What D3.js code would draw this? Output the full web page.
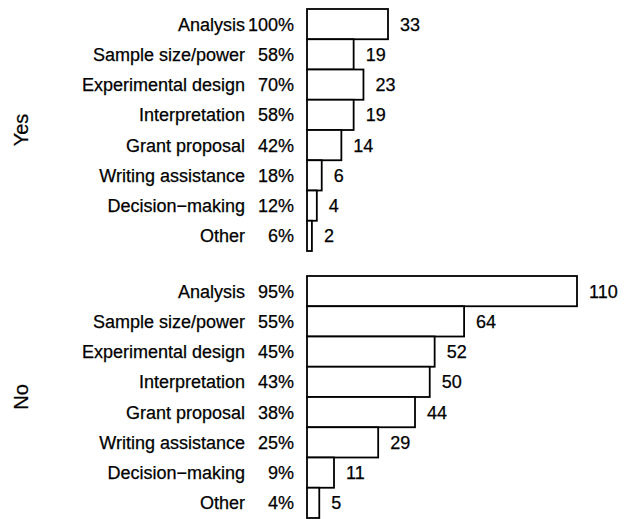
<!DOCTYPE html>
<html>
<head>
<meta charset="utf-8">
<script src="https://cdn.jsdelivr.net/npm/d3@7"></script>
<style>
  body { margin: 0; background: #fff; }
  svg text { font-family: "Liberation Sans", Arial, sans-serif; fill: #000; stroke: #000; stroke-width: 0.25px; }
</style>
</head>
<body>
<svg id="chart" width="629" height="519"></svg>
<script>
const categories = ['Analysis', 'Sample size/power', 'Experimental design', 'Interpretation',
  'Grant proposal', 'Writing assistance', 'Decision\u2212making', 'Other'];
const yesCounts = [33, 19, 23, 19, 14, 6, 4, 2];
const yesPercents = ['100%', '58%', '70%', '58%', '42%', '18%', '12%', '6%'];
const noCounts = [110, 64, 52, 50, 44, 29, 11, 5];
const noPercents = ['95%', '55%', '45%', '43%', '38%', '25%', '9%', '4%'];
const groups = ['Yes', 'No'];

const svg = d3.select('svg#chart');

const x = d3.scaleLinear()
  .domain([0, 110])
  .range([307, 577]);

const panels = [
  {name: groups[0], counts: yesCounts, percents: yesPercents, top: 9, bottom: 251},
  {name: groups[1], counts: noCounts, percents: noPercents, top: 276, bottom: 518}
];

panels.forEach((p) => {
  const y = d3.scaleBand()
    .domain(categories)
    .range([p.top, p.bottom])
    .padding(0);
  const rows = categories.map((c, i) => ({cat: c, n: p.counts[i], pct: p.percents[i]}));
  const g = svg.append('g');

  g.selectAll('rect').data(rows)
    .enter().append('rect')
      .attr('x', x(0))
      .attr('y', d => y(d.cat))
      .attr('width', d => x(d.n) - x(0))
      .attr('height', y.bandwidth())
      .style('fill', '#fff')
      .style('stroke', '#000')
      .style('stroke-width', 1.8);

  g.selectAll('text.cat').data(rows)
    .enter().append('text')
      .attr('class', 'cat')
      .attr('x', 245)
      .attr('y', d => y(d.cat) + y.bandwidth() / 2)
      .attr('dy', '0.36em')
      .attr('text-anchor', 'end')
      .style('font-size', '18px')
      .text(d => d.cat);

  g.selectAll('text.pct').data(rows)
    .enter().append('text')
      .attr('class', 'pct')
      .attr('x', 294)
      .attr('y', d => y(d.cat) + y.bandwidth() / 2)
      .attr('dy', '0.36em')
      .attr('text-anchor', 'end')
      .style('font-size', '18px')
      .text(d => d.pct);

  g.selectAll('text.val').data(rows)
    .enter().append('text')
      .attr('class', 'val')
      .attr('x', d => x(d.n) + 12)
      .attr('y', d => y(d.cat) + y.bandwidth() / 2)
      .attr('dy', '0.36em')
      .style('font-size', '18px')
      .text(d => d.n);

  g.append('text')
    .attr('transform', `translate(28,${(p.top + p.bottom) / 2}) rotate(-90)`)
    .attr('text-anchor', 'middle')
    .style('font-size', '20px')
    .text(p.name);
});
</script>
</body>
</html>
